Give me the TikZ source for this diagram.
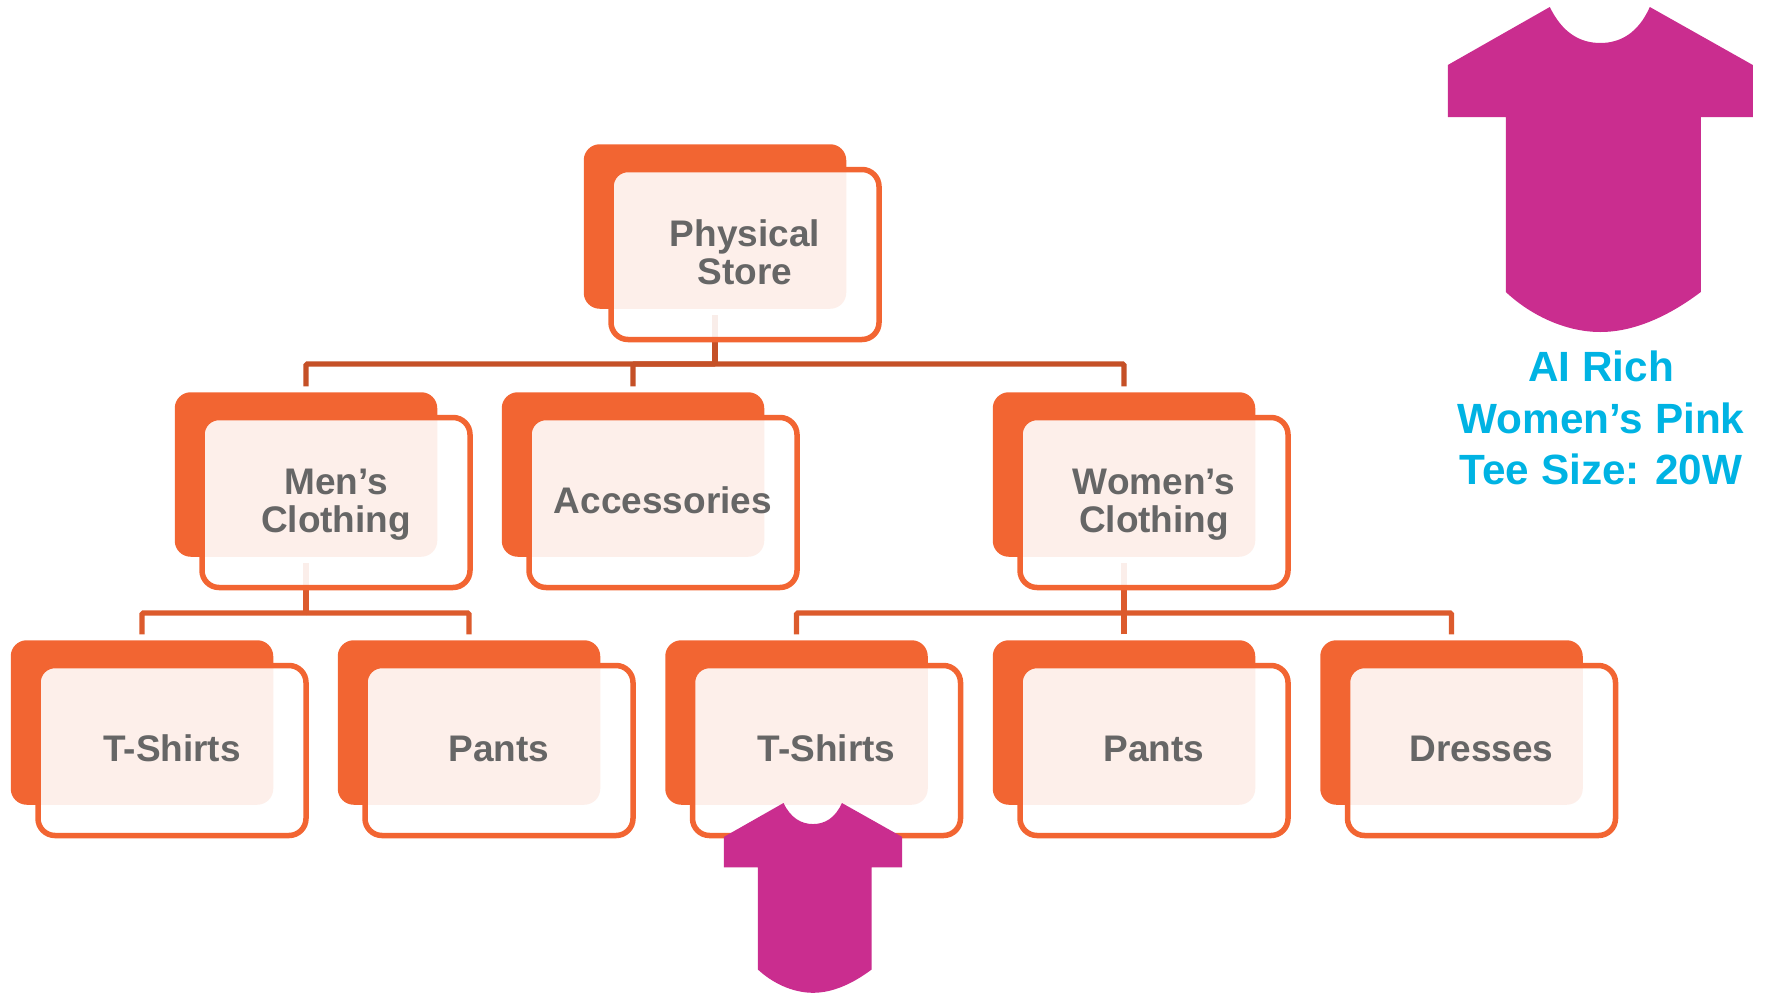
\documentclass[tikz,border=0pt]{standalone}
\usepackage{fontspec}
\setmainfont{Liberation Sans}
\definecolor{boxor}{HTML}{F26532}
\definecolor{linea}{HTML}{C55027}
\definecolor{lineb}{HTML}{DC5B2D}
\definecolor{txt}{HTML}{666666}
\definecolor{shirt}{HTML}{CA2D8F}
\definecolor{sky}{HTML}{00B3E3}
\tikzset{
  backbox/.style={rectangle,rounded corners=16pt,fill=boxor,minimum width=262.5pt,minimum height=164.5pt,inner sep=0pt,outer sep=0pt},
  frontbox/.style={rectangle,rounded corners=17pt,draw=boxor,line width=5.5pt,fill=white,fill opacity=.9,draw opacity=1,text opacity=1,minimum width=268pt,minimum height=170pt,inner sep=0pt,outer sep=0pt,align=center,text=txt,font=\bfseries\fontsize{37}{37.7}\selectfont},
  conna/.style={draw=linea,line width=5.4pt,rounded corners=1.5pt},
  connb/.style={draw=lineb,line width=5.4pt,rounded corners=1.5pt},
  shirtshape/.style={fill=shirt,draw=none},
  captext/.style={align=center,text=sky,font=\bfseries\fontsize{42.3}{51.3}\selectfont,inner sep=0pt}
}
\newcommand{\topfix}{\rule{0pt}{30pt}}
\newcommand{\botfix}{\rule[-8pt]{0pt}{8pt}}
\newcommand{\tee}{
  (-50.5,0) .. controls (-38,26) and (-20,36) .. (0,36) .. controls (20,36) and (38,26) .. (49.5,0)
  -- (152.5,58) -- (152.5,110) -- (100.5,110) -- (100.5,285)
  .. controls (70,308) and (35,325) .. (0,325) .. controls (-35,325) and (-70,308) .. (-94.5,285)
  -- (-94.5,110) -- (-152.5,110) -- (-152.5,58) -- cycle
}
\begin{document}
\begin{tikzpicture}[x=1pt,y=-1pt]
\useasboundingbox (0,0) rectangle (1768,993);
\coordinate (bar1) at (715,364);
\coordinate (bar2) at (306,613);
\coordinate (bar3) at (1124,613);
\pgfdeclarelayer{boxes}\pgfsetlayers{main,boxes}
\begin{pgfonlayer}{boxes}
\foreach \n/\cx/\cy in {ps/715/226.5,mc/306/474.5,ac/633/474.5,wc/1124/474.5,
  ts1/142/722.5,pa1/469/722.5,ts2/796.5/722.5,pa2/1124/722.5,dr/1451.5/722.5}{
  \node[backbox] (\n) at (\cx,\cy) {};
}
\node[frontbox] (psf) at ([xshift=30pt,yshift=-28pt]ps.center) {\topfix Physical\\Store\botfix};
\node[frontbox] (mcf) at ([xshift=30pt,yshift=-28pt]mc.center) {\topfix Men’s\\Clothing\botfix};
\node[frontbox] (acf) at ([xshift=30pt,yshift=-28pt]ac.center) {\topfix Accessories\botfix};
\node[frontbox] (wcf) at ([xshift=30pt,yshift=-28pt]wc.center) {\topfix Women’s\\Clothing\botfix};
\node[frontbox] (ts1f) at ([xshift=30pt,yshift=-28pt]ts1.center) {\topfix T-Shirts\botfix};
\node[frontbox] (pa1f) at ([xshift=30pt,yshift=-28pt]pa1.center) {\topfix Pants\botfix};
\node[frontbox] (ts2f) at ([xshift=30pt,yshift=-28pt]ts2.center) {\topfix T-Shirts\botfix};
\node[frontbox] (pa2f) at ([xshift=30pt,yshift=-28pt]pa2.center) {\topfix Pants\botfix};
\node[frontbox] (drf) at ([xshift=30pt,yshift=-28pt]dr.center) {\topfix Dresses\botfix};
\fill[shirtshape] (1600.3,7) [shift={(1600.3,7)}] \tee;
\begin{scope}[shift={(813,803)},scale=.584]
\fill[shirtshape] \tee;
\end{scope}
\node[captext] (cap) at (1601,418) {AI Rich\\Women’s Pink\\Tee Size: 20W};
\end{pgfonlayer}
\draw[conna] ([yshift=-6pt]ps.south) -- (bar1);
\draw[conna] ([yshift=6pt]mc.north) |- (bar1);
\draw[conna] ([yshift=6pt]ac.north) |- (bar1);
\draw[conna] ([yshift=6pt]wc.north) |- (bar1);
\draw[connb] ([yshift=-6pt]mc.south) -- (bar2);
\draw[connb] ([yshift=6pt]ts1.north) |- (bar2);
\draw[connb] ([yshift=6pt]pa1.north) |- (bar2);
\draw[connb] ([yshift=-6pt]wc.south) -- (bar3);
\draw[connb] ([yshift=6pt]ts2.north) |- (bar3);
\draw[connb] ([yshift=6pt]pa2.north) |- (bar3);
\draw[connb] ([yshift=6pt]dr.north) |- (bar3);
\end{tikzpicture}
\end{document}
